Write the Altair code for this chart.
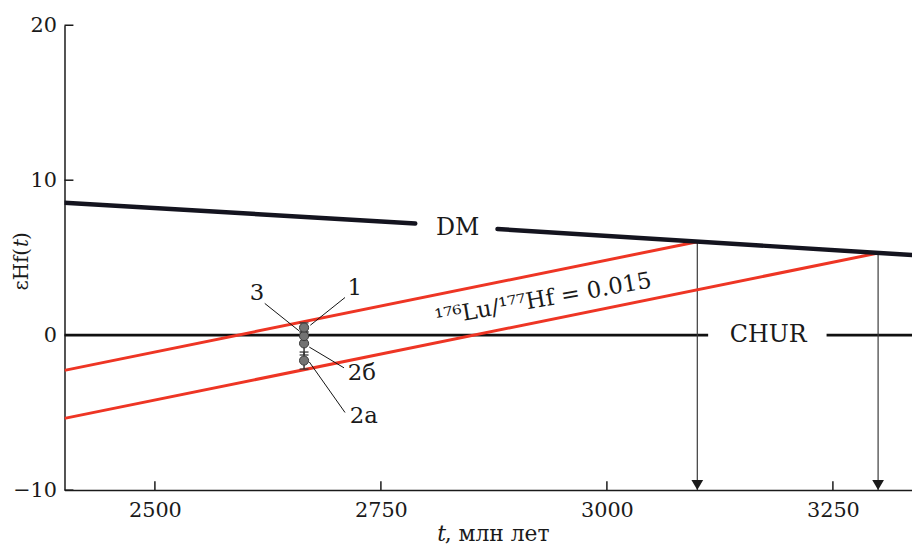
import altair as alt
import pandas as pd

FONT = "DejaVu Serif"

# ---- axes ----
x_ticks = [2500, 2750, 3000, 3250]
y_ticks = [-10, 0, 10, 20]
x_domain = [2400, 3337.5]
y_domain = [-10, 20]

# ---- DM line (two segments, gap for the label) ----
dm_seg = [1, 1, 2, 2]
dm_t = [2400, 2788, 2879, 3337.5]
dm_e = [8.55, 7.2, 6.85, 5.17]

# ---- CHUR line ----
chur_seg = [1, 1, 2, 2]
chur_t = [2400, 3112, 3243, 3337.5]
chur_e = [0, 0, 0, 0]

# ---- red evolution lines (176Lu/177Hf = 0.015) ----
red_seg = [1, 1, 2, 2]
red_t = [2400, 3100, 2400, 3300]
red_e = [-2.27, 6.03, -5.37, 5.3]

# ---- model ages (arrows) ----
tdm_t = [3100, 3300]
tdm_top = [6.03, 5.3]

# ---- samples ----
sample_id = ["2а", "2б", "3", "1"]
sample_t = [2665, 2665, 2665, 2665]
sample_e = [-1.64, -0.53, -0.06, 0.49]
sample_lo = [-2.19, -1.28, -0.56, 0.19]
sample_hi = [-1.09, 0.22, 0.44, 0.79]

# ---- sample labels and leader lines ----
lab_text = ["1", "3", "2б", "2а"]
lab_t = [2721, 2613, 2729, 2731]
lab_e = [3.07, 2.69, -2.43, -5.25]
lead_t1 = [2710.3, 2621.5, 2670.8, 2670.8]
lead_e1 = [2.43, 2.05, -0.77, -1.73]
lead_t2 = [2671.9, 2659.9, 2709.2, 2710.3]
lead_e2 = [0.64, 0.26, -2.11, -4.99]

# ---- other annotations ----
ann_text = ["DM", "CHUR"]
ann_t = [2835, 3178.5]
ann_e = [6.9, 0.0]
ratio_text = ["¹⁷⁶Lu/¹⁷⁷Hf = 0.015"]
ratio_t = [2929.6]
ratio_e = [2.3]

# ---- axis titles (mixed italic) ----
ytitle_normal_text = ["εHf(", ")"]
ytitle_normal_e = [2.88, 6.14]
ytitle_italic_text = ["t"]
ytitle_italic_e = [5.69]
ytitle_t = 2352.9
xtitle_italic_text = ["t"]
xtitle_italic_t = [2812.3]
xtitle_normal_text = [", млн лет"]
xtitle_normal_t = [2820.5]
xtitle_e = -13.3

xs = alt.Scale(domain=x_domain, nice=False, zero=False)
ys = alt.Scale(domain=y_domain, nice=False, zero=False)
xaxis = alt.Axis(values=x_ticks, title=None, ticks=False, grid=False, format="d",
                 labelPadding=10, domainColor="#1a1a1a", domainWidth=1.5)
yaxis = alt.Axis(values=y_ticks, title=None, ticks=False, grid=False, format="d",
                 labelPadding=8, domainColor="#1a1a1a", domainWidth=1.5)


def X(f="t"):
    return alt.X(f"{f}:Q", scale=xs, axis=xaxis)


def Y(f="e"):
    return alt.Y(f"{f}:Q", scale=ys, axis=yaxis)


dm = pd.DataFrame({"seg": dm_seg, "t": dm_t, "e": dm_e})
chur = pd.DataFrame({"seg": chur_seg, "t": chur_t, "e": chur_e})
red = pd.DataFrame({"seg": red_seg, "t": red_t, "e": red_e})
tdm = pd.DataFrame({"t": tdm_t, "e": tdm_top, "e2": [y_domain[0]] * len(tdm_t)})
smp = pd.DataFrame({"id": sample_id, "t": sample_t, "e": sample_e,
                    "lo": sample_lo, "hi": sample_hi})
caps = pd.DataFrame({"t": sample_t * 2, "e": sample_lo + sample_hi})
labs = pd.DataFrame({"txt": lab_text, "t": lab_t, "e": lab_e})
leads = pd.DataFrame({"t": lead_t1, "e": lead_e1, "t2": lead_t2, "e2": lead_e2})
ann = pd.DataFrame({"txt": ann_text, "t": ann_t, "e": ann_e})
ratio = pd.DataFrame({"txt": ratio_text, "t": ratio_t, "e": ratio_e})
ytn = pd.DataFrame({"txt": ytitle_normal_text, "t": [ytitle_t] * 2, "e": ytitle_normal_e})
yti = pd.DataFrame({"txt": ytitle_italic_text, "t": [ytitle_t], "e": ytitle_italic_e})
xti = pd.DataFrame({"txt": xtitle_italic_text, "t": xtitle_italic_t, "e": [xtitle_e]})
xtn = pd.DataFrame({"txt": xtitle_normal_text, "t": xtitle_normal_t, "e": [xtitle_e]})
xtk = pd.DataFrame({"t": x_ticks})
ytk = pd.DataFrame({"e": y_ticks})

layers = []

# axis ticks (inward)
layers.append(alt.Chart(xtk).mark_rule(color="#1a1a1a", strokeWidth=1.5).encode(
    x=X(), y=alt.value(469), y2=alt.value(460)))
layers.append(alt.Chart(ytk).mark_rule(color="#1a1a1a", strokeWidth=1.5).encode(
    y=Y(), x=alt.value(0), x2=alt.value(9)))

# CHUR
layers.append(alt.Chart(chur).mark_line(color="#111111", strokeWidth=2.6, clip=True).encode(
    x=X(), y=Y(), detail="seg:N"))

# arrows
layers.append(alt.Chart(tdm).mark_rule(color="#3a3a3a", strokeWidth=1.2).encode(
    x=X(), y=Y(), y2="e2:Q"))
layers.append(alt.Chart(tdm).mark_point(shape="triangle-down", filled=True, size=140,
                                        color="#1a1a1a", opacity=1, yOffset=-5.2).encode(
    x=X(), y=alt.Y("e2:Q", scale=ys, axis=yaxis)))

# red lines
layers.append(alt.Chart(red).mark_line(color="#ee3524", strokeWidth=3, clip=True).encode(
    x=X(), y=Y(), detail="seg:N"))

# DM
layers.append(alt.Chart(dm).mark_line(color="#14141f", strokeWidth=4.5, strokeCap="round",
                                      clip=True).encode(x=X(), y=Y(), detail="seg:N"))

# leader lines
layers.append(alt.Chart(leads).mark_rule(color="#111111", strokeWidth=1).encode(
    x=X(), y=Y(), x2="t2:Q", y2="e2:Q"))

# error bars
layers.append(alt.Chart(smp).mark_rule(color="#333333", strokeWidth=1.5).encode(
    x=X(), y=alt.Y("lo:Q", scale=ys, axis=yaxis), y2="hi:Q"))
layers.append(alt.Chart(caps).mark_tick(orient="horizontal", color="#333333", size=9,
                                        thickness=1.8).encode(x=X(), y=Y()))

# samples
layers.append(alt.Chart(smp).mark_circle(size=85, color="#737373", opacity=1,
                                         stroke="#3a3a3a", strokeWidth=1).encode(
    x=X(), y=Y()))

# labels
layers.append(alt.Chart(labs).mark_text(font=FONT, fontSize=23, color="#1a1a1a",
                                        baseline="middle", align="center").encode(
    x=X(), y=Y(), text="txt:N"))
layers.append(alt.Chart(ann).mark_text(font=FONT, fontSize=24, color="#1a1a1a",
                                       baseline="middle", align="center").encode(
    x=X(), y=Y(), text="txt:N"))
layers.append(alt.Chart(ratio).mark_text(font=FONT, fontSize=23, color="#1a1a1a",
                                         baseline="middle", align="center", angle=350).encode(
    x=X(), y=Y(), text="txt:N"))

# axis titles
for df, style in [(ytn, "normal"), (yti, "italic")]:
    layers.append(alt.Chart(df).mark_text(font=FONT, fontSize=20, color="#1a1a1a",
                                          fontStyle=style, baseline="middle", align="left",
                                          angle=270).encode(x=X(), y=Y(), text="txt:N"))
for df, style in [(xti, "italic"), (xtn, "normal")]:
    layers.append(alt.Chart(df).mark_text(font=FONT, fontSize=22, color="#1a1a1a",
                                          fontStyle=style, baseline="alphabetic",
                                          align="left").encode(x=X(), y=Y(), text="txt:N"))

chart = alt.layer(*layers).properties(
    width=855, height=469,
    padding={"left": 57, "top": 15, "right": 0, "bottom": 56},
    autosize=alt.AutoSizeParams(type="none"),
).configure_view(stroke=None).configure_axis(
    labelFont=FONT, labelFontSize=21, labelColor="#1a1a1a"
)

chart.save("out.html", embed_options={"renderer": "svg", "actions": False})
